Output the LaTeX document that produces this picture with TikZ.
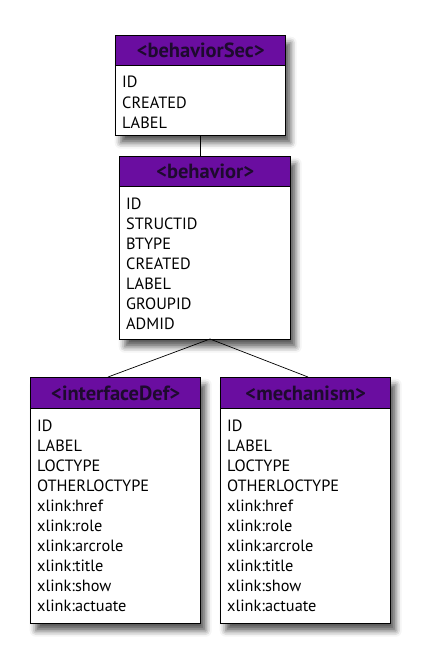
\documentclass[tikz,border=0pt]{standalone}
\usepackage{fontspec}
\setmainfont{PT Sans}
\usetikzlibrary{shadows.blur}
\definecolor{hdr}{HTML}{6A0DA0}
\definecolor{hdrtext}{HTML}{1E0A2E}
\tikzset{
  entbody/.style={draw=black, line width=1.4pt, fill=white, anchor=north west, inner sep=0pt,
    blur shadow={shadow xshift=5pt, shadow yshift=-7pt, shadow blur radius=6pt, shadow opacity=65}},
  enthead/.style={draw=black, line width=1.4pt, fill=hdr, anchor=north west, inner sep=0pt,
    text=hdrtext, font=\fontsize{20.5}{20}\selectfont\bfseries},
  attr/.style={anchor=base west, inner sep=0pt, font=\fontsize{16.3}{20}\selectfont},
  conn/.style={draw=black, line width=0.7pt}
}
\begin{document}
\begin{tikzpicture}[x=1pt,y=-1pt]
\useasboundingbox (0,0) rectangle (436,661);
% behaviorSec
\node[entbody, minimum width=170pt, minimum height=100pt] (bs) at (115,35) {};
\node[enthead, minimum width=170pt, minimum height=30pt] (bsh) at (115,35) {<behaviorSec>};
\foreach \t [count=\i] in {ID,CREATED,LABEL}
  \node[attr] (bs-\i) at (122,{68+20*\i}) {\t};
% behavior
\node[entbody, minimum width=171pt, minimum height=183pt] (beh) at (119,156) {};
\node[enthead, minimum width=171pt, minimum height=30pt] (behh) at (119,156) {<behavior>};
\foreach \t [count=\i] in {ID,STRUCTID,BTYPE,CREATED,LABEL,GROUPID,ADMID}
  \node[attr] (beh-\i) at (126,{189+20*\i}) {\t};
% interfaceDef
\node[entbody, minimum width=170pt, minimum height=246pt] (ifd) at (30,377) {};
\node[enthead, minimum width=170pt, minimum height=31pt] (ifdh) at (30,377) {<interfaceDef>};
\foreach \t [count=\i] in {ID,LABEL,LOCTYPE,OTHERLOCTYPE,xlink:href,xlink:role,xlink:arcrole,xlink:title,xlink:show,xlink:actuate}
  \node[attr] (ifd-\i) at (37,{411+20*\i}) {\t};
% mechanism
\node[entbody, minimum width=170pt, minimum height=246pt] (mec) at (220,377) {};
\node[enthead, minimum width=170pt, minimum height=31pt] (mech) at (220,377) {<mechanism>};
\foreach \t [count=\i] in {ID,LABEL,LOCTYPE,OTHERLOCTYPE,xlink:href,xlink:role,xlink:arcrole,xlink:title,xlink:show,xlink:actuate}
  \node[attr] (mec-\i) at (227,{411+20*\i}) {\t};
% connectors
\coordinate (apex) at (210,339);
\draw[conn] (bs.south -| 200,0) -- (behh.north -| 200,0);
\draw[conn] (apex) -- (ifdh.north -| 108,0);
\draw[conn] (apex) -- (mech.north -| 308,0);
\end{tikzpicture}
\end{document}
